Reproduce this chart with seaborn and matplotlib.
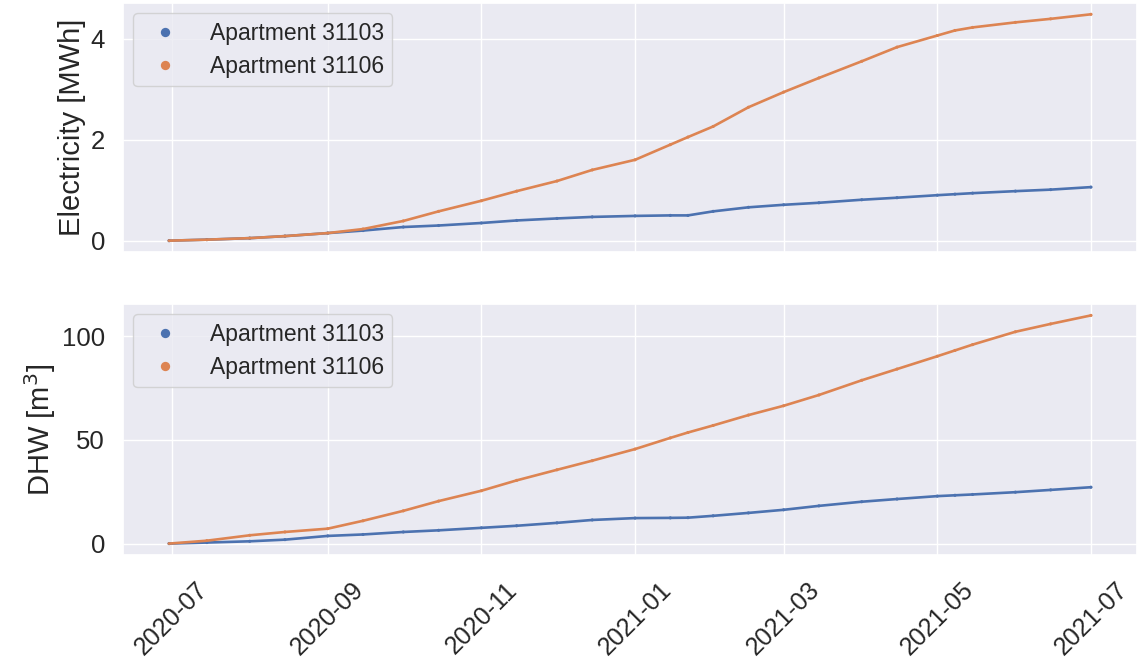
import matplotlib
matplotlib.use("Agg")
import matplotlib.pyplot as plt
import matplotlib.dates as mdates
from matplotlib.ticker import MultipleLocator
import pandas as pd
import seaborn as sns

# Cumulative consumption since the start of the monitoring period
dates = [
    "2020-06-30", "2020-07-15", "2020-08-01", "2020-08-15", "2020-09-01",
    "2020-09-15", "2020-10-01", "2020-10-15", "2020-11-01", "2020-11-15",
    "2020-12-01", "2020-12-15", "2021-01-01", "2021-01-15", "2021-01-22",
    "2021-02-01", "2021-02-15", "2021-03-01", "2021-03-15", "2021-04-01",
    "2021-04-15", "2021-05-01", "2021-05-08", "2021-05-15", "2021-06-01",
    "2021-06-15", "2021-07-01",
]
apartments = ["Apartment 31103", "Apartment 31106"]

# Electricity [MWh]
elec_31103 = [0.00, 0.02, 0.05, 0.09, 0.15, 0.20, 0.27, 0.30, 0.35, 0.40,
              0.44, 0.47, 0.49, 0.50, 0.50, 0.58, 0.66, 0.71, 0.75, 0.81,
              0.85, 0.90, 0.92, 0.94, 0.98, 1.01, 1.06]
elec_31106 = [0.00, 0.02, 0.05, 0.09, 0.15, 0.23, 0.39, 0.58, 0.79, 0.98,
              1.18, 1.40, 1.60, 1.90, 2.05, 2.26, 2.64, 2.94, 3.22, 3.55,
              3.83, 4.06, 4.16, 4.22, 4.32, 4.39, 4.48]

# Domestic hot water [m3]
dhw_31103 = [0.0, 0.5, 1.1, 1.9, 3.7, 4.4, 5.6, 6.4, 7.6, 8.6,
             10.0, 11.4, 12.3, 12.4, 12.5, 13.4, 14.8, 16.3, 18.2, 20.2,
             21.5, 22.9, 23.3, 23.7, 24.8, 25.9, 27.2]
dhw_31106 = [0.0, 1.4, 4.0, 5.6, 7.2, 11.0, 15.8, 20.5, 25.5, 30.5,
             35.6, 40.0, 45.6, 51.0, 53.6, 57.0, 62.0, 66.5, 71.7, 78.8,
             84.2, 90.4, 93.2, 96.0, 102.2, 106.0, 110.1]


def long_frame(first, second):
    t = pd.to_datetime(dates)
    return pd.concat([
        pd.DataFrame({"date": t, "value": first, "apartment": apartments[0]}),
        pd.DataFrame({"date": t, "value": second, "apartment": apartments[1]}),
    ], ignore_index=True)


sns.set_theme(style="darkgrid")
plt.rcParams["font.family"] = ["Liberation Sans", "DejaVu Sans"]
text_color = "#262626"

palette = dict(zip(apartments, sns.color_palette("deep", 2)))

fig = plt.figure(figsize=(11.43, 6.6), dpi=100)
ax1 = fig.add_axes([0.1076, 0.6182, 0.8872, 0.3773])
ax2 = fig.add_axes([0.1076, 0.1591, 0.8872, 0.3803], sharex=ax1)

panels = [
    (ax1, long_frame(elec_31103, elec_31106), "Electricity [MWh]", 2),
    (ax2, long_frame(dhw_31103, dhw_31106), "DHW [m$^3$]", 50),
]

for ax, df, ylabel, step in panels:
    sns.lineplot(data=df, x="date", y="value", hue="apartment",
                 hue_order=apartments, palette=palette, linewidth=1.9,
                 estimator=None, legend=False, ax=ax)
    sns.scatterplot(data=df, x="date", y="value", hue="apartment",
                    hue_order=apartments, palette=palette, s=5,
                    linewidth=0, ax=ax)
    ax.legend(loc="upper left", fontsize=16.5, markerscale=3.0,
              borderpad=0.38, labelspacing=0.42, handletextpad=0.95,
              borderaxespad=0.45, title=None)
    ax.set_xlabel("")
    ax.set_ylabel(ylabel, fontsize=21, color=text_color, labelpad=3)
    ax.yaxis.set_major_locator(MultipleLocator(step))
    ax.tick_params(axis="y", labelsize=18.5, labelcolor=text_color, pad=7)

ax2.xaxis.set_major_locator(mdates.MonthLocator(bymonth=[1, 3, 5, 7, 9, 11]))
ax2.xaxis.set_major_formatter(mdates.DateFormatter("%Y-%m"))
ax2.tick_params(axis="x", labelsize=18, labelcolor=text_color,
                labelrotation=45, pad=10.5)
plt.setp(ax1.get_xticklabels(), visible=False)

fig.savefig("out.png", dpi=100)
